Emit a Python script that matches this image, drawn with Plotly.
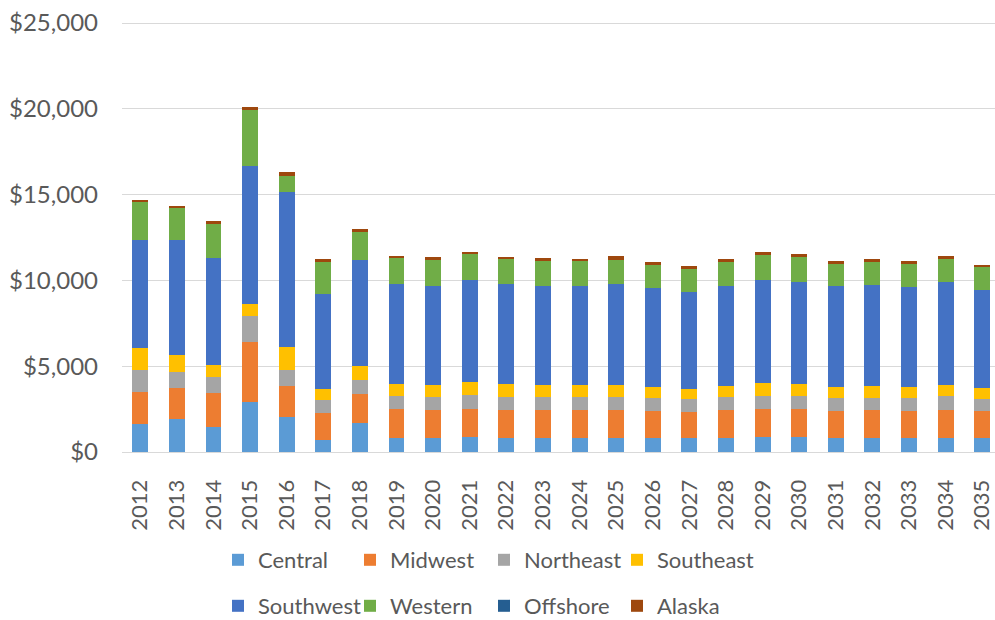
import plotly.graph_objects as go

years = [str(y) for y in range(2012, 2036)]

central = [1640, 1920, 1450, 2930, 2030, 700, 1690, 830, 830, 870, 810, 810,
           810, 810, 810, 810, 810, 870, 870, 810, 810, 810, 810, 810]
midwest = [1840, 1800, 1980, 3460, 1820, 1570, 1700, 1670, 1630, 1630, 1630, 1630,
           1630, 1630, 1570, 1510, 1630, 1630, 1630, 1570, 1630, 1570, 1630, 1570]
northeast = [1300, 950, 930, 1530, 930, 775, 810, 770, 740, 810, 755, 755,
             755, 755, 755, 760, 755, 770, 770, 775, 715, 775, 830, 700]
southeast = [1260, 970, 700, 700, 1320, 620, 800, 700, 700, 760, 755, 700,
             700, 700, 640, 580, 640, 740, 680, 620, 680, 620, 620, 640]
southwest = [6330, 6700, 6270, 8020, 9060, 5540, 6170, 5810, 5770, 5940, 5830, 5770,
             5770, 5890, 5770, 5655, 5830, 6000, 5985, 5890, 5885, 5825, 6005, 5710]
western = [2210, 1860, 1980, 3290, 950, 1900, 1670, 1510, 1510, 1550, 1490, 1490,
           1490, 1430, 1370, 1375, 1435, 1490, 1455, 1315, 1380, 1380, 1375, 1375]
offshore = [0] * 24
alaska = [120, 155, 175, 170, 210, 115, 175, 155, 160, 120, 120, 175,
          115, 180, 180, 175, 170, 180, 170, 175, 170, 175, 175, 115]

y_tick_vals = [0, 5000, 10000, 15000, 20000, 25000]
y_tick_text = ["$0", "$5,000", "$10,000", "$15,000", "$20,000", "$25,000"]

series = [
    ("Central", central, "#5B9BD5"),
    ("Midwest", midwest, "#ED7D31"),
    ("Northeast", northeast, "#A5A5A5"),
    ("Southeast", southeast, "#FFC000"),
    ("Southwest", southwest, "#4472C4"),
    ("Western", western, "#70AD47"),
    ("Offshore", offshore, "#255E91"),
    ("Alaska", alaska, "#9E480E"),
]

FONT = "Lato, 'Open Sans', sans-serif"
GREY_TEXT = "#595959"
W, H = 995, 620

# legend grid: 4 columns x 2 rows, one single-entry legend per cell
col_px = [238, 370, 504, 637]   # symbol centres
row_px = [560, 606]

fig = go.Figure()
legends = {}
for i, (name, vals, color) in enumerate(series):
    key = "legend" if i == 0 else f"legend{i + 1}"
    fig.add_trace(go.Bar(
        name=name, x=years, y=vals,
        marker=dict(color=color, line=dict(width=0)),
        legend=key, showlegend=True,
        hovertemplate="%{x}<br>" + name + ": $%{y:,}<extra></extra>",
    ))
    cx = col_px[i % 4]
    cy = row_px[i // 4]
    legends[key] = dict(
        xref="container", yref="container",
        x=(cx - 20) / W, y=1 - cy / H,
        xanchor="left", yanchor="middle",
        font=dict(family=FONT, size=22, color=GREY_TEXT),
        bgcolor="rgba(0,0,0,0)", borderwidth=0,
        itemclick=False, itemdoubleclick=False,
    )

fig.update_layout(
    showlegend=True,
    barmode="stack",
    bargap=0.565,
    width=W, height=H,
    margin=dict(l=122, r=0, t=22, b=168, autoexpand=False),
    paper_bgcolor="white", plot_bgcolor="white",
    font=dict(family=FONT, size=22, color=GREY_TEXT),
    xaxis=dict(
        type="category",
        range=[-0.5, 23.35],
        tickangle=-90,
        showgrid=False,
        showline=True, linecolor="#D9D9D9", linewidth=1,
        ticks="", ticklabelstandoff=18,
        tickfont=dict(family=FONT, size=22, color=GREY_TEXT),
    ),
    yaxis=dict(
        range=[0, 25060],
        tickmode="array", tickvals=y_tick_vals, ticktext=y_tick_text,
        showgrid=True, gridcolor="#D9D9D9", gridwidth=1,
        zeroline=False, showline=False,
        ticks="", ticklabelstandoff=23,
        tickfont=dict(family=FONT, size=24, color=GREY_TEXT),
    ),
    **legends,
)

fig.write_html("out.html")
